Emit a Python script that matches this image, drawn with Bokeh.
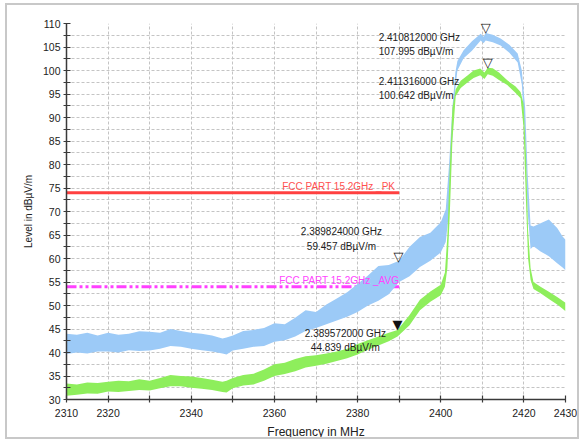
from bokeh.plotting import figure
from bokeh.models import Range1d, FixedTicker, ColumnDataSource
from bokeh.core.properties import value
from bokeh.embed import file_html
from bokeh.resources import INLINE

# ---- Peak trace (light blue): read envelope, low / high (dBµV/m) ----
freq_pk = [2310, 2312.5, 2315, 2317.5, 2320, 2322.5, 2325, 2327.5, 2330, 2332.5,
           2335, 2337.5, 2340, 2342.5, 2345, 2347.5, 2348.5, 2350, 2352.5, 2355,
           2357.5, 2360, 2362.5, 2365, 2367.5, 2370, 2372.5, 2375, 2377.5, 2380,
           2382.5, 2385, 2387.5, 2390, 2392.5, 2395, 2397.5, 2400, 2401.2, 2402,
           2402.8, 2403.5, 2404, 2405.5, 2407.5, 2409.6, 2410.3, 2410.8, 2412.5, 2414.4,
           2416.5, 2418.5, 2419.5, 2420.3, 2420.9, 2421.6, 2422.3, 2424, 2426, 2428,
           2429.3, 2430]
pk_low = [39.7, 40.0, 39.8, 40.2, 40.2, 40.0, 40.5, 40.3, 40.4, 40.8,
          41.4, 41.2, 40.8, 40.5, 40.2, 39.8, 39.6, 40.4, 40.8, 41.2,
          41.4, 42.3, 42.6, 43.4, 44.6, 45.2, 46.0, 46.8, 47.6, 48.6,
          50.0, 51.0, 52.4, 55.0, 56.2, 58.2, 59.5, 61.3, 63.5, 70.0,
          86.0, 96.0, 100.0, 102.6, 104.2, 106.4, 105.8, 106.4, 106.0, 105.3,
          103.8, 101.7, 97.0, 85.0, 70.0, 62.0, 62.6, 61.5, 60.5, 59.0,
          58.1, 57.5]
pk_high = [44.0, 43.8, 44.2, 43.6, 44.2, 43.8, 44.0, 44.5, 44.4, 44.2,
           45.0, 44.6, 44.2, 44.0, 43.6, 43.0, 43.2, 43.6, 44.6, 44.8,
           45.2, 46.2, 46.0, 47.4, 49.0, 48.6, 50.2, 51.5, 52.8, 54.6,
           56.4, 58.4, 58.6, 59.5, 62.5, 64.6, 65.5, 67.7, 70.4, 80.0,
           92.0, 99.5, 102.0, 104.3, 106.2, 107.8, 107.2, 108.0, 107.6, 106.8,
           105.5, 103.6, 100.0, 92.0, 78.0, 67.0, 66.8, 67.5, 68.3, 66.5,
           64.7, 64.0]

# ---- Average trace (green): read envelope, low / high (dBµV/m) ----
freq_av = [2310, 2312.5, 2315, 2317.5, 2320, 2322.5, 2325, 2327.5, 2330, 2332.5,
           2335, 2337.5, 2340, 2342.5, 2345, 2347.5, 2348.5, 2350, 2352.5, 2355,
           2357.5, 2360, 2362.5, 2365, 2367.5, 2370, 2372.5, 2375, 2377.5, 2380,
           2382.5, 2385, 2387.5, 2389.6, 2392.5, 2395, 2397.5, 2400, 2401, 2401.6,
           2402.2, 2402.8, 2403.6, 2404.8, 2406.5, 2407.9, 2409.5, 2410.5, 2411.3, 2412.5,
           2414, 2416, 2418, 2419.2, 2419.9, 2420.5, 2421, 2421.6, 2422.3, 2424,
           2426, 2428, 2429.3, 2430]
av_low = [30.8, 31.0, 31.3, 31.2, 31.7, 31.6, 31.8, 32.0, 31.9, 32.4,
          32.8, 32.8, 32.5, 32.3, 32.0, 31.6, 31.5, 32.4, 33.0, 33.2,
          34.0, 35.0, 35.4, 36.0, 36.8, 37.2, 37.6, 38.2, 38.8, 39.6,
          40.6, 41.5, 42.4, 43.4, 45.8, 49.0, 50.8, 52.2, 54.0, 58.0,
          70.0, 85.0, 94.5, 96.3, 97.5, 98.4, 99.0, 98.2, 99.2, 98.9,
          98.0, 96.9, 95.2, 94.1, 88.0, 72.0, 60.0, 55.5, 53.5, 52.6,
          51.4, 50.2, 49.3, 48.8]
av_high = [33.4, 33.2, 33.6, 33.5, 33.8, 34.0, 33.9, 34.3, 34.0, 34.6,
           35.2, 35.0, 34.9, 34.6, 34.2, 33.8, 34.0, 34.6, 35.2, 35.5,
           36.4, 37.5, 37.8, 38.6, 39.2, 39.4, 39.8, 40.2, 40.8, 41.8,
           42.6, 43.4, 44.2, 44.8, 48.0, 51.2, 53.0, 54.4, 57.0, 65.0,
           80.0, 92.0, 96.0, 97.8, 99.0, 100.0, 100.4, 99.6, 100.6, 100.5,
           99.6, 97.9, 96.6, 95.4, 93.0, 82.0, 66.0, 58.0, 55.0, 54.0,
           52.9, 51.8, 51.0, 50.6]

# ---- Limit lines ----
limit_names = ["FCC PART 15.2GHz _PK", "FCC PART 15.2GHz _AVG"]
limit_level = [74, 54]
limit_start = [2310, 2310]
limit_stop = [2390, 2390]

# ---- Markers ----
marker_ghz = [2.410812, 2.411316, 2.389824, 2.389572]
marker_level = [107.995, 100.642, 59.457, 44.839]
marker_filled = [False, False, False, True]

# ---- Axis ticks ----
x_ticks = list(range(2310, 2431, 10))
x_tick_labels = ["2310", "2320", "", "2340", "", "2360", "", "2380", "", "2400", "", "2420", "2430"]
y_ticks = list(range(30, 111, 5))
y_minor = [t + 2.5 for t in range(30, 110, 5)]

FONT = "Liberation Sans"
TXT = "#222222"
BLUE = "#9ccaf7"
GREEN = "#8eee5c"

p = figure(width=574, height=436, x_range=Range1d(2310, 2430), y_range=Range1d(30, 110),
           output_backend="svg", toolbar_location=None,
           min_border_left=59, min_border_right=16, min_border_top=18, min_border_bottom=40)
p.outline_line_color = None
p.background_fill_color = "white"
p.border_fill_color = "white"
p.styles = {"border": "2px solid #c8c8c8", "margin": "3px 2px 2px 5px"}

# axes
p.xaxis.ticker = FixedTicker(ticks=x_ticks)
p.xaxis.major_label_overrides = {t: lab for t, lab in zip(x_ticks, x_tick_labels)}
p.yaxis.ticker = FixedTicker(ticks=y_ticks, minor_ticks=y_minor)
for ax in (p.xaxis[0], p.yaxis[0]):
    ax.axis_line_color = "#3a3a3a"
    ax.axis_line_width = 1.5
    ax.major_tick_line_color = "#3a3a3a"
    ax.minor_tick_line_color = "#3a3a3a"
    ax.major_tick_line_width = 1.2
    ax.minor_tick_line_width = 1.2
    ax.major_tick_in = 4
    ax.major_tick_out = 3
    ax.minor_tick_in = 4
    ax.minor_tick_out = 3
    ax.major_label_text_font = FONT
    ax.major_label_text_font_size = "10.5px"
    ax.major_label_text_color = TXT
    ax.axis_label_text_font = FONT
    ax.axis_label_text_font_style = "normal"
    ax.axis_label_text_color = TXT
p.xaxis.axis_label = "Frequency in MHz"
p.xaxis.axis_label_text_font_size = "12px"
p.xaxis.major_label_standoff = 6
p.xaxis.axis_label_standoff = 5
p.yaxis.axis_label = "Level in dBµV/m"
p.yaxis.axis_label_text_font_size = "10px"
p.yaxis.major_label_standoff = 3
p.yaxis.axis_label_standoff = 6

# grid
for g in (p.xgrid[0], p.ygrid[0]):
    g.grid_line_color = "#c4c4c4"
    g.grid_line_dash = "3 2"
    g.grid_line_width = 1
p.ygrid.minor_grid_line_color = "#c4c4c4"
p.ygrid.minor_grid_line_dash = "3 2"
p.ygrid.minor_grid_line_width = 1

# limit lines
p.segment(x0=[limit_start[0]], y0=[limit_level[0]], x1=[limit_stop[0]], y1=[limit_level[0]],
          line_color="#ff4040", line_width=3)
p.segment(x0=[limit_start[1]], y0=[limit_level[1]], x1=[limit_stop[1]], y1=[limit_level[1]],
          line_color="#ff40ff", line_width=3, line_dash="10 3 3 3 3 3")

# traces
p.varea(x=freq_pk, y1=pk_low, y2=pk_high, fill_color=BLUE, fill_alpha=1.0)
p.varea(x=freq_av, y1=av_low, y2=av_high, fill_color=GREEN, fill_alpha=1.0)

# limit labels
p.text(x=[limit_stop[0]], y=[limit_level[0]], text=[limit_names[0]], text_font=value(FONT),
       text_font_size="10px", text_color="#ff5050", text_align="right",
       text_baseline="bottom", x_offset=-4, y_offset=-1)
p.text(x=[limit_stop[1]], y=[limit_level[1]], text=[limit_names[1]], text_font=value(FONT),
       text_font_size="10px", text_color="#ff44ff", text_align="right",
       text_baseline="bottom", x_offset=0, y_offset=-1)

# markers
mx = [g * 1000 for g in marker_ghz]
msrc = ColumnDataSource(dict(
    x=mx, y=marker_level,
    sym=["\u25bc" if f else "\u25bd" for f in marker_filled],
    lab=[f"{g:.9f} GHz\n{v:.3f} dBµV/m" for g, v in zip(marker_ghz, marker_level)],
    dx=[-107, -109, -57, -52],
    dy=[11.5, 21, -22, 10.5],
    align=["left", "left", "center", "center"],
))
p.text(x="x", y="y", text="sym", source=msrc, text_font=value("DejaVu Sans"),
       text_font_size="13px", text_color="#111111", text_align="center",
       text_baseline="alphabetic", y_offset=-5)
p.text(x="x", y="y", text="lab", source=msrc, text_font=value(FONT),
       text_font_size="10px", text_color=TXT, text_align="align",
       text_baseline="middle", x_offset="dx", y_offset="dy", text_line_height=1.3)

open("out.html", "w").write(file_html(p, INLINE))
